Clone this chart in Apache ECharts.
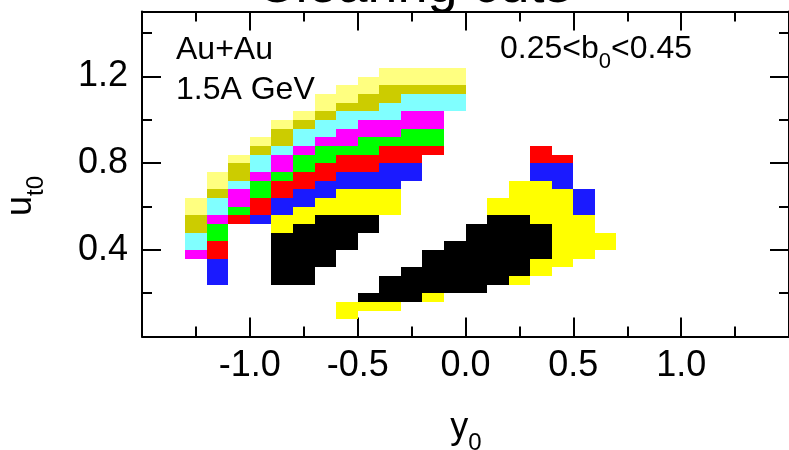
<!DOCTYPE html>
<html>
<head>
<meta charset="utf-8">
<script src="https://cdn.jsdelivr.net/npm/echarts@6/dist/echarts.min.js"></script>
<style>
  html, body { margin: 0; padding: 0; background: #fff; }
  #chart { width: 789px; height: 450px; }
</style>
</head>
<body>
<div id="chart"></div>
<script>
const FONT = '"Liberation Sans", Arial, Helvetica, sans-serif'

// bins are 0.1 wide in y0; each cell is [y0 centre, ut0 low edge, ut0 high edge]
const binWidth = 0.1

const paleCells = [
  [-1.25, 0.56, 0.64], [-1.15, 0.68, 0.76], [-1.05, 0.80, 0.84], [-0.95, 0.88, 0.92],
  [-0.85, 0.96, 1.00], [-0.75, 1.00, 1.04], [-0.65, 1.04, 1.12], [-0.55, 1.08, 1.16],
  [-0.45, 1.12, 1.20], [-0.35, 1.16, 1.24], [-0.25, 1.16, 1.24], [-0.15, 1.16, 1.24],
  [-0.05, 1.16, 1.24],
]
const oliveCells = [
  [-1.25, 0.48, 0.56], [-1.15, 0.64, 0.68], [-1.05, 0.72, 0.80], [-0.95, 0.84, 0.88],
  [-0.85, 0.88, 0.96], [-0.75, 0.96, 1.00], [-0.65, 1.00, 1.04], [-0.55, 1.04, 1.08],
  [-0.45, 1.04, 1.12], [-0.35, 1.08, 1.16], [-0.25, 1.12, 1.16], [-0.15, 1.12, 1.16],
  [-0.05, 1.12, 1.16],
]
const cyanCells = [
  [-1.25, 0.40, 0.48], [-1.15, 0.56, 0.64], [-1.05, 0.68, 0.72], [-0.95, 0.76, 0.84],
  [-0.85, 0.84, 0.88], [-0.75, 0.88, 0.96], [-0.65, 0.92, 1.00], [-0.55, 0.96, 1.04],
  [-0.45, 1.00, 1.04], [-0.35, 1.00, 1.08], [-0.25, 1.04, 1.12], [-0.15, 1.04, 1.12],
  [-0.05, 1.04, 1.12],
]
const magentaCells = [
  [-1.25, 0.36, 0.40], [-1.15, 0.52, 0.56], [-1.05, 0.60, 0.68], [-0.95, 0.72, 0.76],
  [-0.85, 0.76, 0.84], [-0.75, 0.84, 0.88], [-0.65, 0.88, 0.92], [-0.55, 0.88, 0.96],
  [-0.45, 0.92, 1.00], [-0.35, 0.92, 1.00], [-0.25, 0.96, 1.04], [-0.15, 0.96, 1.04],
]
const greenCells = [
  [-1.15, 0.44, 0.52], [-1.05, 0.56, 0.60], [-0.95, 0.64, 0.72], [-0.85, 0.72, 0.76],
  [-0.75, 0.76, 0.84], [-0.65, 0.80, 0.88], [-0.55, 0.84, 0.88], [-0.45, 0.84, 0.92],
  [-0.35, 0.88, 0.92], [-0.25, 0.88, 0.96], [-0.15, 0.88, 0.96],
]
const redCells = [
  [-1.15, 0.36, 0.44], [-1.05, 0.52, 0.56], [-0.95, 0.56, 0.64], [-0.85, 0.64, 0.72],
  [-0.75, 0.68, 0.76], [-0.65, 0.72, 0.80], [-0.55, 0.76, 0.84], [-0.45, 0.76, 0.84],
  [-0.35, 0.80, 0.88], [-0.25, 0.80, 0.88], [-0.15, 0.84, 0.88],
  [0.35, 0.80, 0.88], [0.45, 0.80, 0.84],
]
const blueCells = [
  [-1.15, 0.24, 0.36], [-0.95, 0.52, 0.56], [-0.85, 0.56, 0.64], [-0.75, 0.60, 0.68],
  [-0.65, 0.64, 0.72], [-0.55, 0.68, 0.76], [-0.45, 0.68, 0.76], [-0.35, 0.68, 0.80],
  [-0.25, 0.72, 0.80],
  [0.35, 0.72, 0.80], [0.45, 0.68, 0.80], [0.55, 0.56, 0.68],
]
const yellowCells = [
  [-0.85, 0.48, 0.56], [-0.75, 0.52, 0.60], [-0.65, 0.56, 0.64], [-0.55, 0.56, 0.68],
  [-0.45, 0.56, 0.68], [-0.35, 0.56, 0.68],
  [-0.55, 0.08, 0.16], [-0.45, 0.12, 0.16], [-0.35, 0.12, 0.16], [-0.15, 0.16, 0.20],
  [0.15, 0.56, 0.64], [0.25, 0.56, 0.72], [0.25, 0.24, 0.28], [0.35, 0.52, 0.72],
  [0.35, 0.28, 0.36], [0.45, 0.32, 0.68], [0.55, 0.36, 0.56], [0.65, 0.40, 0.48],
]
const blackCells = [
  [-0.85, 0.24, 0.48], [-0.75, 0.24, 0.52], [-0.65, 0.32, 0.56], [-0.55, 0.40, 0.56],
  [-0.45, 0.48, 0.56],
  [-0.45, 0.16, 0.20], [-0.35, 0.16, 0.28], [-0.25, 0.16, 0.32], [-0.15, 0.20, 0.40],
  [-0.05, 0.20, 0.44], [0.05, 0.20, 0.52], [0.15, 0.24, 0.56], [0.25, 0.28, 0.56],
  [0.35, 0.36, 0.52],
]

const cuts = [
  { name: 'pale', cells: paleCells, color: '#ffff80' },
  { name: 'olive', cells: oliveCells, color: '#cccc00' },
  { name: 'cyan', cells: cyanCells, color: '#80ffff' },
  { name: 'magenta', cells: magentaCells, color: '#ff00ff' },
  { name: 'green', cells: greenCells, color: '#00ff00' },
  { name: 'red', cells: redCells, color: '#ff0000' },
  { name: 'blue', cells: blueCells, color: '#1a1aff' },
  { name: 'yellow', cells: yellowCells, color: '#ffff00' },
  { name: 'black', cells: blackCells, color: '#000000' },
]

const xTicks = { min: -1.5, max: 1.5, interval: 0.5 }
const yTicks = { min: 0, max: 1.5, interval: 0.4 }

function frameAxis(extra) {
  return Object.assign({
    type: 'value',
    axisLine: { show: true, onZero: false, lineStyle: { color: '#000', width: 2 } },
    axisTick: { show: true, inside: true, length: 19, lineStyle: { color: '#000', width: 2 } },
    minorTick: { show: true, splitNumber: 2, length: 10, lineStyle: { color: '#000', width: 2 } },
    splitLine: { show: false },
    minorSplitLine: { show: false },
  }, extra)
}

const tickLabel = {
  color: '#000',
  fontFamily: FONT,
  fontSize: 36,
  showMinLabel: false,
  showMaxLabel: false,
  formatter: v => v.toFixed(1),
}

function renderCell(color) {
  return (params, api) => {
    const x = api.value(0)
    const lo = api.value(1)
    const hi = api.value(2)
    const a = api.coord([x - binWidth / 2, hi])
    const b = api.coord([x + binWidth / 2, lo])
    const x0 = Math.round(a[0]), y0 = Math.round(a[1])
    return {
      type: 'rect',
      shape: { x: x0, y: y0, width: Math.round(b[0]) - x0, height: Math.round(b[1]) - y0 },
      style: { fill: color },
    }
  }
}

const sub = (size, pad) => ({ fontSize: size, lineHeight: size, fontFamily: FONT, padding: [pad, 0, 0, 0] })

const chart = echarts.init(document.getElementById('chart'), null, { renderer: 'canvas' })
chart.setOption({
  animation: false,
  backgroundColor: '#fff',
  grid: { left: 142, top: 11.5, width: 648, height: 325, containLabel: false },
  xAxis: [
    frameAxis({ position: 'bottom', ...xTicks, axisLabel: { ...tickLabel, margin: 12 } }),
    frameAxis({ position: 'top', ...xTicks, axisLabel: { show: false } }),
  ],
  yAxis: [
    frameAxis({ position: 'left', ...yTicks, axisLabel: { ...tickLabel, margin: 14 } }),
    frameAxis({ position: 'right', ...yTicks, axisLabel: { show: false } }),
  ],
  series: cuts.map(c => ({
    type: 'custom',
    name: c.name,
    xAxisIndex: 0,
    yAxisIndex: 0,
    data: c.cells,
    encode: { x: 0, y: [1, 2] },
    renderItem: renderCell(c.color),
    silent: true,
    z: 1,
  })),
  graphic: [
    {
      type: 'text', x: 414, y: 14,
      style: { text: 'Clearing cuts', fontFamily: FONT, fontSize: 54, fill: '#000', align: 'center', verticalAlign: 'bottom' },
    },
    {
      type: 'text', x: 176, y: 50,
      style: { text: 'Au+Au', fontFamily: FONT, fontSize: 32, fill: '#000', align: 'left', verticalAlign: 'middle' },
    },
    {
      type: 'text', x: 176, y: 90,
      style: { text: '1.5A GeV', fontFamily: FONT, fontSize: 32, fill: '#000', align: 'left', verticalAlign: 'middle' },
    },
    {
      type: 'text', x: 500, y: 33,
      style: {
        text: '{m|0.25<b}{s|0}{m|<0.45}',
        fill: '#000', align: 'left', verticalAlign: 'top',
        rich: { m: { fontSize: 32, lineHeight: 32, fontFamily: FONT }, s: sub(22, 26) },
      },
    },
    {
      type: 'text', x: 466, y: 410,
      style: {
        text: '{m|y}{s|0}',
        fill: '#000', align: 'center', verticalAlign: 'top',
        rich: { m: { fontSize: 36, lineHeight: 36, fontFamily: FONT }, s: sub(24, 30) },
      },
    },
    {
      type: 'text', x: 21, y: 196, rotation: Math.PI / 2,
      style: {
        text: '{m|u}{s|t0}',
        fill: '#000', align: 'center', verticalAlign: 'middle',
        rich: { m: { fontSize: 36, lineHeight: 36, fontFamily: FONT }, s: sub(24, 30) },
      },
    },
  ],
})
</script>
</body>
</html>
